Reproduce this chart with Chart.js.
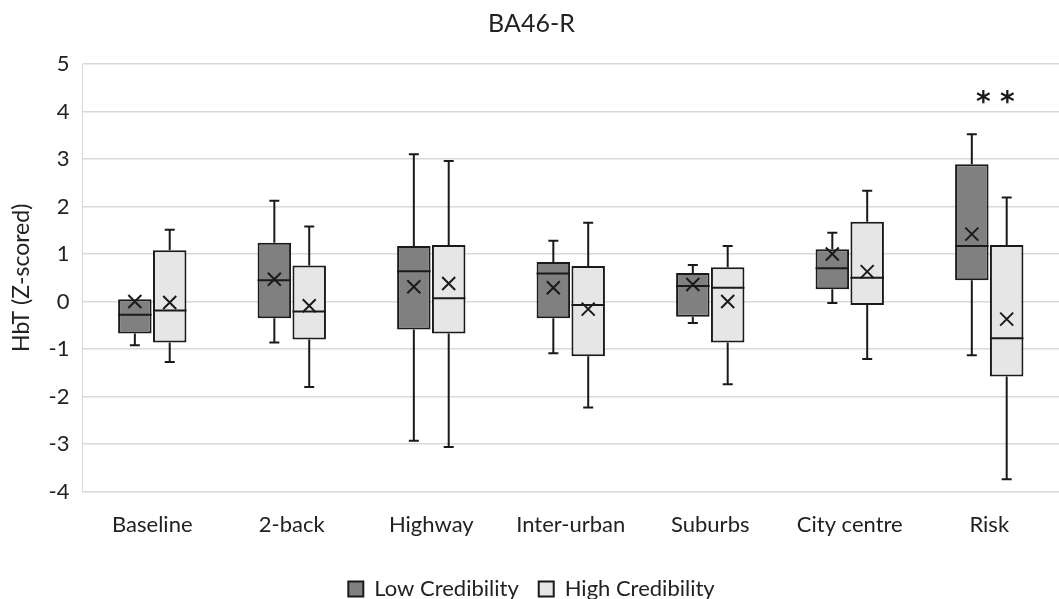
<!DOCTYPE html>
<html>
<head>
<meta charset="utf-8">
<title>BA46-R</title>
<script src="https://cdn.jsdelivr.net/npm/chart.js@4/dist/chart.umd.min.js"></script>
<style>
  html, body { margin: 0; padding: 0; background: #ffffff; }
  #wrap { width: 1059px; height: 599px; position: relative; }
</style>
</head>
<body>
<div id="wrap"><canvas id="chart"></canvas></div>
<script>
// Task conditions on the x axis
const categories = ['Baseline', '2-back', 'Highway', 'Inter-urban', 'Suburbs', 'City centre', 'Risk'];

// Low credibility group: five-number summary plus mean
const lowMin    = [-0.92, -0.86, -2.93, -1.09, -0.45, -0.03, -1.13];
const lowQ1     = [-0.67, -0.35, -0.59, -0.35, -0.32,  0.26,  0.45];
const lowMedian = [-0.28,  0.45,  0.64,  0.59,  0.33,  0.70,  1.17];
const lowQ3     = [ 0.05,  1.24,  1.17,  0.83,  0.60,  1.10,  2.89];
const lowMax    = [ 0.05,  2.12,  3.10,  1.28,  0.77,  1.45,  3.52];
const lowMean   = [ 0.00,  0.47,  0.31,  0.29,  0.36,  1.00,  1.42];

// High credibility group: five-number summary plus mean
const highMin    = [-1.27, -1.80, -3.06, -2.23, -1.74, -1.21, -3.74];
const highQ1     = [-0.86, -0.80, -0.67, -1.15, -0.86, -0.07, -1.58];
const highMedian = [-0.19, -0.21,  0.07, -0.07,  0.29,  0.50, -0.77];
const highQ3     = [ 1.08,  0.76,  1.19,  0.75,  0.72,  1.68,  1.19];
const highMax    = [ 1.51,  1.58,  2.96,  1.66,  1.17,  2.33,  2.19];
const highMean   = [-0.02, -0.09,  0.38, -0.16,  0.00,  0.63, -0.37];

// Y axis range and ticks
const yMin = -4;
const yMax = 5;
const yStep = 1;

// Significance marker above the Risk condition
const sigCategory = 'Risk';
const sigLabel = '**';
const sigValue = 4.27;

const FONT = 'Lato, "Open Sans", "Liberation Sans", sans-serif';
const INK = '#1a1a1a';
const TEXT = '#222222';

const stats = [
  { min: lowMin,  median: lowMedian,  max: lowMax,  mean: lowMean },
  { min: highMin, median: highMedian, max: highMax, mean: highMean }
];

// Draws whiskers, median lines and mean crosses on top of the floating bars
const boxDecor = {
  id: 'boxDecor',
  afterDatasetsDraw(chart) {
    const ctx = chart.ctx;
    const y = chart.scales.y;
    ctx.save();
    ctx.strokeStyle = INK;
    ctx.lineWidth = 2;
    chart.data.datasets.forEach((ds, di) => {
      const meta = chart.getDatasetMeta(di);
      const s = stats[di];
      meta.data.forEach((bar, i) => {
        const cx = bar.x;
        const half = bar.width / 2;
        const q1 = ds.data[i][0];
        const q3 = ds.data[i][1];
        const cap = 5;
        // upper whisker
        if (s.max[i] > q3) {
          ctx.beginPath();
          ctx.moveTo(cx, y.getPixelForValue(q3));
          ctx.lineTo(cx, y.getPixelForValue(s.max[i]));
          ctx.moveTo(cx - cap, y.getPixelForValue(s.max[i]));
          ctx.lineTo(cx + cap, y.getPixelForValue(s.max[i]));
          ctx.stroke();
        }
        // lower whisker
        if (s.min[i] < q1) {
          ctx.beginPath();
          ctx.moveTo(cx, y.getPixelForValue(q1));
          ctx.lineTo(cx, y.getPixelForValue(s.min[i]));
          ctx.moveTo(cx - cap, y.getPixelForValue(s.min[i]));
          ctx.lineTo(cx + cap, y.getPixelForValue(s.min[i]));
          ctx.stroke();
        }
        // median
        const my = y.getPixelForValue(s.median[i]);
        ctx.beginPath();
        ctx.moveTo(cx - half, my);
        ctx.lineTo(cx + half, my);
        ctx.stroke();
        // mean cross
        const ey = y.getPixelForValue(s.mean[i]);
        const r = 6.5;
        ctx.beginPath();
        ctx.moveTo(cx - r, ey - r);
        ctx.lineTo(cx + r, ey + r);
        ctx.moveTo(cx + r, ey - r);
        ctx.lineTo(cx - r, ey + r);
        ctx.stroke();
      });
    });
    // significance asterisks, one glyph at a time for wider spacing
    const x = chart.scales.x;
    ctx.fillStyle = INK;
    ctx.font = 'bold 28px "DejaVu Sans", sans-serif';
    ctx.textAlign = 'center';
    ctx.textBaseline = 'middle';
    const sx = x.getPixelForValue(categories.indexOf(sigCategory)) + 6;
    const sy = y.getPixelForValue(sigValue) + 5;
    const gap = 24;
    const chars = sigLabel.split('');
    chars.forEach((c, k) => {
      ctx.fillText(c, sx + (k - (chars.length - 1) / 2) * gap, sy);
    });
    ctx.restore();
  }
};

// Pushes the legend toward the bottom edge
const legendDrop = {
  id: 'legendDrop',
  afterUpdate(chart) {
    const lg = chart.legend;
    if (!lg) return;
    const dy = 8;
    lg.top += dy;
    lg.bottom += dy;
    if (lg.legendHitBoxes) lg.legendHitBoxes.forEach(b => { b.top += dy; });
  }
};

new Chart(document.getElementById('chart'), {
  type: 'bar',
  data: {
    labels: categories,
    datasets: [
      {
        label: 'Low Credibility',
        data: lowQ1.map((v, i) => [v, lowQ3[i]]),
        backgroundColor: '#808080',
        borderColor: INK,
        borderWidth: 2,
        borderSkipped: false,
        categoryPercentage: 0.5,
        barPercentage: 0.96
      },
      {
        label: 'High Credibility',
        data: highQ1.map((v, i) => [v, highQ3[i]]),
        backgroundColor: '#e6e6e6',
        borderColor: INK,
        borderWidth: 2,
        borderSkipped: false,
        categoryPercentage: 0.5,
        barPercentage: 0.96
      }
    ]
  },
  options: {
    responsive: true,
    maintainAspectRatio: false,
    animation: false,
    layout: { padding: { left: 4, right: 0, top: 0, bottom: -3 } },
    plugins: {
      title: {
        display: true,
        text: 'BA46-R',
        color: TEXT,
        font: { family: FONT, size: 25, weight: 'normal' },
        padding: { top: 9, bottom: 25 }
      },
      legend: {
        position: 'bottom',
        labels: {
          color: TEXT,
          font: { family: FONT, size: 22 },
          boxWidth: 15,
          boxHeight: 15,
          padding: 20
        }
      },
      tooltip: { enabled: false }
    },
    scales: {
      x: {
        grid: { display: false },
        border: { color: '#d9d9d9', width: 1 },
        ticks: { color: TEXT, font: { family: FONT, size: 22 }, padding: 12 }
      },
      y: {
        min: yMin,
        max: yMax,
        ticks: { stepSize: yStep, color: TEXT, font: { family: FONT, size: 22 }, padding: 13 },
        grid: { color: '#d9d9d9', lineWidth: 1.5, drawTicks: false },
        border: { color: '#d9d9d9', width: 1 },
        title: {
          display: true,
          text: 'HbT (Z-scored)',
          color: TEXT,
          font: { family: FONT, size: 23 },
          padding: { bottom: 0 }
        }
      }
    }
  },
  plugins: [boxDecor, legendDrop]
});
</script>
</body>
</html>
